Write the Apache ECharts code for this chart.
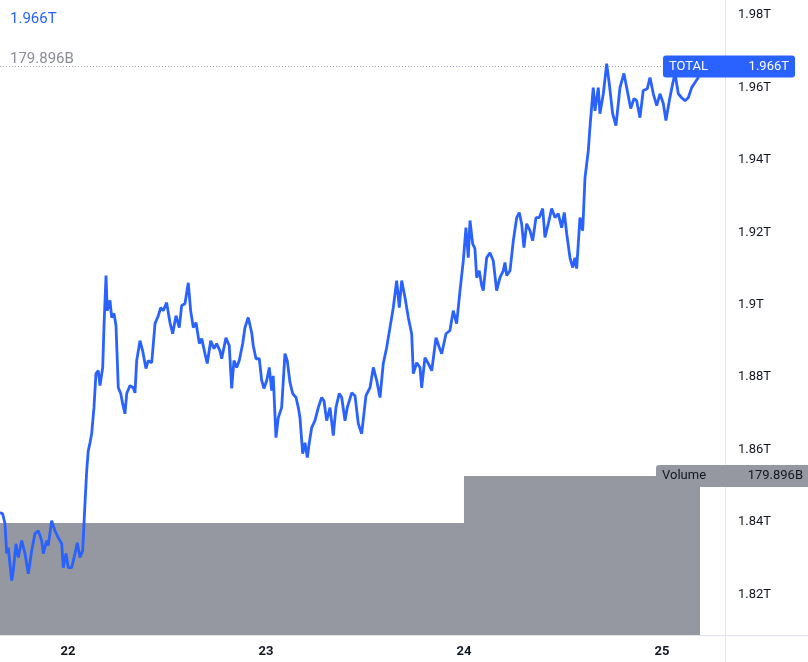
<!DOCTYPE html>
<html><head><meta charset="utf-8">
<script src="https://cdn.jsdelivr.net/npm/echarts@6/dist/echarts.min.js"></script>
<style>html,body{margin:0;padding:0;background:#fff}#c{width:808px;height:662px}</style>
</head><body><div id="c"></div>
<script>
// x = hours since day 22, 00:00
const dayTicks = [0, 24, 48, 72];
const dayLabels = ['22', '23', '24', '25'];
const priceTicks = [1.82, 1.84, 1.86, 1.88, 1.90, 1.92, 1.94, 1.96, 1.98];

const hours = [
-8.24,-7.92,-7.64,-7.43,-7.24,-6.82,-6.63,-6.30,-6.02,-5.61,-5.21,-4.81,-4.40,-4.00,-3.60,-3.19,-2.99,-2.58,-2.39,-1.98,
-1.58,-1.18,-0.76,-0.57,-0.24,0.04,0.45,0.85,1.13,1.45,1.78,2.06,2.27,2.46,2.67,2.87,3.15,3.39,3.67,3.88,
4.21,4.36,4.61,4.76,5.09,5.30,5.58,5.82,6.10,6.39,6.63,6.91,7.12,7.52,7.92,8.12,8.33,8.73,9.05,9.45,
9.73,10.15,10.55,10.95,11.24,11.55,11.96,12.36,12.69,13.09,13.49,13.78,14.18,14.58,14.87,15.19,15.52,15.92,16.21,16.61,
16.88,17.30,17.70,18.02,18.42,18.63,19.15,19.55,19.84,20.12,20.45,20.76,21.18,21.45,21.85,22.27,22.46,22.79,23.19,23.48,
23.76,24.09,24.40,24.69,24.88,25.21,25.49,25.90,26.30,26.58,26.91,27.24,27.64,27.92,28.12,28.45,28.73,29.01,29.25,29.54,
29.94,30.34,30.75,31.03,31.36,31.76,32.16,32.48,32.88,33.18,33.58,33.85,34.39,34.79,35.19,35.60,36.12,36.61,37.01,37.42,
37.82,38.22,38.63,39.03,39.43,39.84,40.16,40.45,40.85,41.25,41.66,41.86,42.27,42.67,42.87,43.27,43.67,44.09,44.61,45.01,
45.30,45.82,46.30,46.70,47.11,47.52,47.92,48.24,48.52,48.73,49.05,49.33,49.54,49.85,50.15,50.34,50.75,51.15,51.55,51.96,
52.36,52.76,52.97,53.18,53.58,53.98,54.39,54.70,54.99,55.27,55.60,56.00,56.33,56.73,57.13,57.54,57.82,58.22,58.63,59.03,
59.43,59.84,60.16,60.45,60.85,61.18,61.45,61.66,62.06,62.39,62.67,63.07,63.27,63.67,63.88,64.28,64.48,64.89,65.30,65.61,
66.02,66.42,66.91,67.39,67.79,68.21,68.61,68.93,69.33,69.73,70.22,70.55,70.95,71.36,71.76,72.16,72.48,72.89,73.30,73.58,
73.98,74.38,74.79,75.19,75.60,76.00,76.40,76.61
];
// Total crypto market cap, trillions USD
const totalCap = [
1.8426,1.8423,1.8396,1.8313,1.8329,1.8238,1.8266,1.8340,1.8302,1.8349,1.8313,1.8257,1.8321,1.8368,1.8376,1.8349,1.8313,1.8349,1.8335,1.8404,
1.8376,1.8357,1.8340,1.8274,1.8313,1.8274,1.8274,1.8313,1.8343,1.8302,1.8321,1.8451,1.8542,1.8597,1.8619,1.8644,1.8716,1.8810,1.8818,1.8777,
1.8827,1.8937,1.9081,1.8984,1.9012,1.8965,1.8976,1.8943,1.8771,1.8755,1.8727,1.8699,1.8755,1.8777,1.8771,1.8757,1.8846,1.8901,1.8873,1.8824,
1.8846,1.8840,1.8948,1.8970,1.8992,1.8984,1.9006,1.8951,1.8920,1.8970,1.8937,1.8998,1.9003,1.9061,1.8984,1.8937,1.8951,1.8893,1.8907,1.8865,
1.8838,1.8901,1.8879,1.8893,1.8873,1.8851,1.8909,1.8887,1.8769,1.8846,1.8827,1.8846,1.8893,1.8937,1.8965,1.8923,1.8887,1.8851,1.8851,1.8791,
1.8769,1.8791,1.8827,1.8763,1.8804,1.8633,1.8688,1.8716,1.8865,1.8846,1.8785,1.8755,1.8744,1.8716,1.8688,1.8589,1.8619,1.8578,1.8619,1.8661,
1.8680,1.8716,1.8744,1.8735,1.8680,1.8716,1.8639,1.8716,1.8755,1.8744,1.8680,1.8716,1.8757,1.8749,1.8672,1.8644,1.8749,1.8771,1.8827,1.8791,
1.8744,1.8838,1.8882,1.8937,1.8992,1.9067,1.8992,1.9067,1.9020,1.8965,1.8920,1.8810,1.8840,1.8827,1.8771,1.8854,1.8838,1.8818,1.8909,1.8882,
1.8865,1.8920,1.8929,1.8984,1.8948,1.9039,1.9122,1.9213,1.9130,1.9233,1.9169,1.9155,1.9075,1.9094,1.9053,1.9039,1.9130,1.9144,1.9122,1.9039,
1.9075,1.9094,1.9117,1.9081,1.9094,1.9177,1.9241,1.9255,1.9224,1.9158,1.9224,1.9205,1.9177,1.9241,1.9241,1.9266,1.9186,1.9224,1.9266,1.9241,
1.9252,1.9213,1.9255,1.9197,1.9130,1.9103,1.9130,1.9100,1.9241,1.9205,1.9351,1.9426,1.9490,1.9600,1.9536,1.9600,1.9528,1.9583,1.9666,1.9611,
1.9528,1.9495,1.9600,1.9639,1.9592,1.9542,1.9570,1.9564,1.9517,1.9592,1.9597,1.9628,1.9583,1.9550,1.9583,1.9556,1.9509,1.9564,1.9611,1.9639,
1.9583,1.9572,1.9564,1.9572,1.9600,1.9614,1.9628,1.9660
];
// Daily volume, billions USD
const volHours = [-8.24, 48, 76.61];
const volume = [126.7, 179.896, 179.896];

const lastTotal = 1.966, lastTotalText = '1.966T';
const lastVolume = 179.896, lastVolumeText = '179.896B';

const BLUE = '#2962ff', GREY = '#9598a1', TXT = '#131722', FONT = 'Roboto, "Noto Sans", sans-serif';

const chart = echarts.init(document.getElementById('c'), null, {renderer: 'canvas'});
const lineData = hours.map((h, i) => [h, totalCap[i]]);
const volData = volHours.map((h, i) => [h, volume[i]]);

chart.setOption({
  animation: false,
  backgroundColor: '#fff',
  grid: {left: 0, top: 0, right: 83, bottom: 27, containLabel: false, outerBoundsMode: 'none'},
  xAxis: {
    type: 'value', min: -8.24, max: 79.64,
    axisLine: {show: false, onZero: false},
    axisTick: {show: false}, splitLine: {show: false},
    axisLabel: {customValues: dayTicks, margin: 10, color: TXT, fontSize: 13, fontWeight: 'bold', fontFamily: FONT,
      formatter: v => dayLabels[dayTicks.indexOf(Math.round(v))] || ''}
  },
  yAxis: [{
    type: 'value', position: 'right', min: 1.8088, max: 1.9842,
    axisLine: {show: false, onZero: false},
    axisTick: {show: false}, splitLine: {show: false},
    axisLabel: {customValues: priceTicks, margin: 13, color: TXT, fontSize: 13, fontFamily: FONT,
      formatter: v => parseFloat(v.toFixed(2)) + 'T'}
  }, {
    type: 'value', position: 'left', min: 0, max: 718.45, show: false,
    axisLine: {onZero: false}
  }],
  series: [{
    type: 'line', yAxisIndex: 1, step: 'end', data: volData, symbol: 'none', z: 1,
    lineStyle: {width: 0}, areaStyle: {color: GREY, opacity: 1}, silent: true
  }, {
    type: 'line', yAxisIndex: 0, data: lineData, symbol: 'none', z: 3,
    lineStyle: {color: BLUE, width: 2.8}, silent: true
  }]
});

const yT = Math.round(chart.convertToPixel({yAxisIndex: 0}, lastTotal)) + 0.5;
const yV = chart.convertToPixel({yAxisIndex: 1}, lastVolume);
chart.setOption({
  graphic: [
    {type: 'line', shape: {x1: 0, y1: yT, x2: 725, y2: yT}, style: {stroke: '#8fa3cc', lineWidth: 1, lineDash: [1, 2]}, z: 2},
    {type: 'line', shape: {x1: 725.5, y1: 0, x2: 725.5, y2: 662}, style: {stroke: '#e0e3eb', lineWidth: 1}, z: 5},
    {type: 'line', shape: {x1: 0, y1: 635.5, x2: 808, y2: 635.5}, style: {stroke: '#e0e3eb', lineWidth: 1}, z: 5},
    {type: 'text', left: 10, top: 12, style: {text: lastTotalText, fill: BLUE, font: '15px ' + FONT}, z: 10},
    {type: 'text', left: 10, top: 52, style: {text: lastVolumeText, fill: '#8a8d96', font: '15px ' + FONT}, z: 10},
    {type: 'rect', shape: {x: 663, y: yT - 11, width: 132, height: 22, r: 3}, style: {fill: BLUE}, z: 10},
    {type: 'text', x: 669, y: yT, style: {text: 'TOTAL', fill: '#fff', font: '13px ' + FONT, verticalAlign: 'middle'}, z: 11},
    {type: 'text', x: 789, y: yT, style: {text: lastTotalText, fill: '#fff', font: '13px ' + FONT, align: 'right', verticalAlign: 'middle'}, z: 11},
    {type: 'rect', shape: {x: 656, y: yV - 11, width: 160, height: 22, r: 3}, style: {fill: GREY}, z: 10},
    {type: 'text', x: 662, y: yV, style: {text: 'Volume', fill: TXT, font: '13px ' + FONT, verticalAlign: 'middle'}, z: 11},
    {type: 'text', x: 803, y: yV, style: {text: lastVolumeText, fill: TXT, font: '13px ' + FONT, align: 'right', verticalAlign: 'middle'}, z: 11}
  ]
});
</script></body></html>
